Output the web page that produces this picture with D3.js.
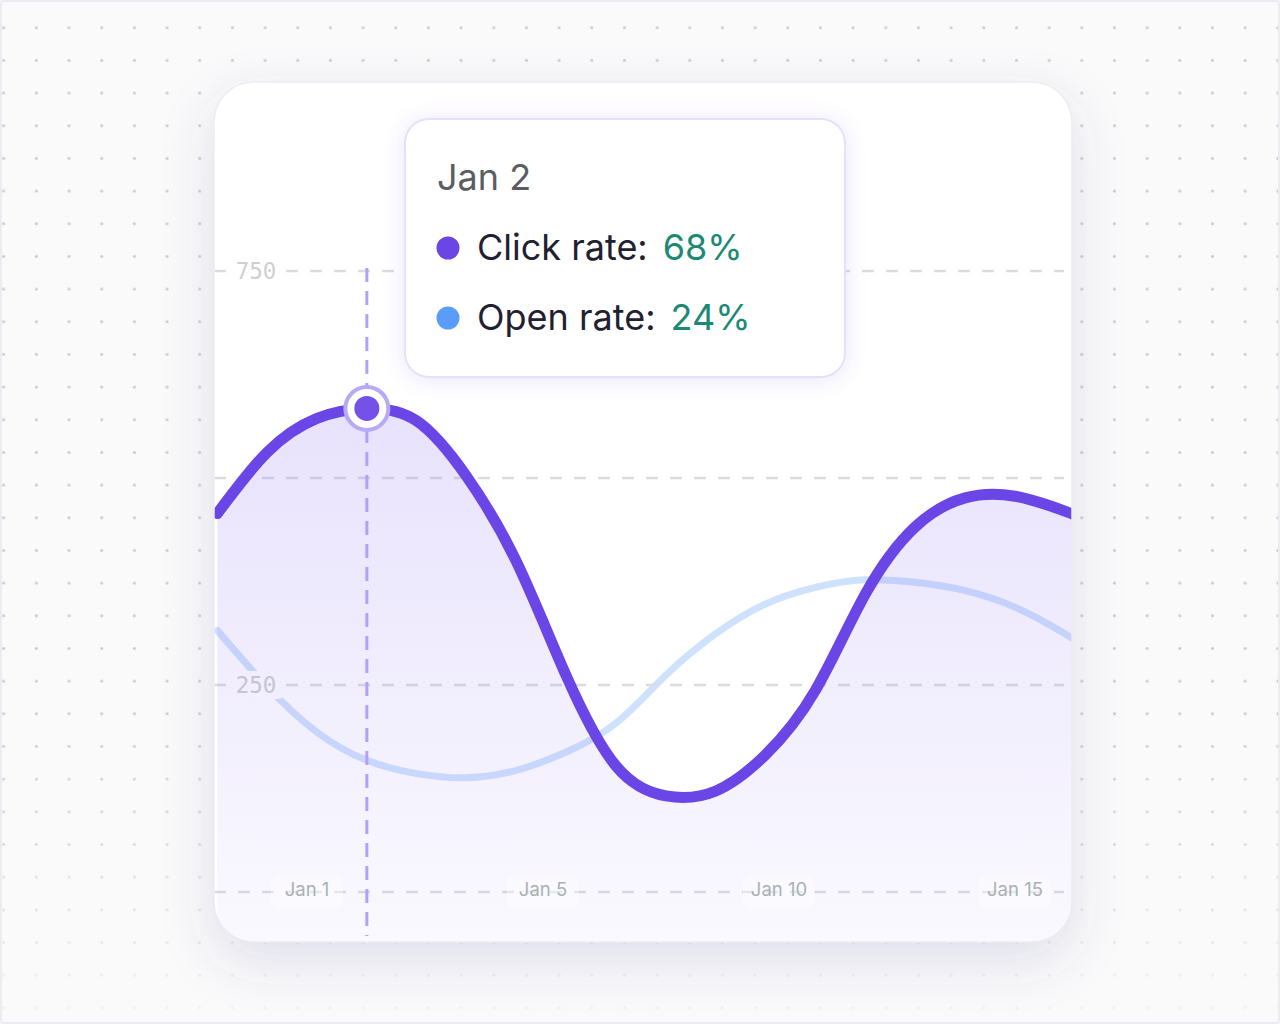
<!DOCTYPE html>
<html>
<head>
<meta charset="utf-8">
<script src="https://cdn.jsdelivr.net/npm/d3@7"></script>
<style>
  html, body { margin: 0; padding: 0; background: #fafafa; }
  svg { display: block; }
</style>
</head>
<body>
<svg id="chart" width="1280" height="1024"></svg>
<script>
// ---- data ----
const days = [-1, 0, 1, 2, 3, 4, 5, 6, 7, 8, 9, 10, 11, 12, 13, 14, 15, 16, 17]; // day of January
const clickRate = [457, 531, 572, 584, 569, 502, 399, 261, 152, 116, 122, 166, 244, 360, 441, 476, 478, 460, 437];
const openRate  = [316, 248, 193, 159, 143, 138, 147, 169, 204, 262, 312, 348, 368, 377, 374, 364, 344, 312, 274];
const xTickLabels = ["Jan 1", "Jan 5", "Jan 10", "Jan 15"];
const yTicks = [0, 250, 500, 750];
const yTickLabels = ["", "250", "", "750"];
const hoverDay = 2;
const tooltipTitle = "Jan 2";
const tooltipNames = ["Click rate:", "Open rate:"];
const tooltipValues = ["68%", "24%"];

// ---- layout ----
const W = 1280, H = 1024;
const card = { x: 214, y: 82, w: 858, h: 860, r: 40 };
const svg = d3.select("#chart");
const defs = svg.append("defs");

const x = d3.scaleLinear().domain([1, 15]).range([317, 1015]);
const xLab = d3.scalePoint().domain(xTickLabels).range([307, 1015]);
const y = d3.scaleLinear().domain([0, 750]).range([892, 271]);

// background dots
const pat = defs.append("pattern").attr("id", "dots")
  .attr("patternUnits", "userSpaceOnUse")
  .attr("x", 3.7 - 16.33).attr("y", 27.7 - 16.33)
  .attr("width", 32.67).attr("height", 32.67);
pat.append("circle").attr("cx", 16.33).attr("cy", 16.33).attr("r", 1.5).attr("fill", "#cbcbce");

const fade = defs.append("linearGradient").attr("id", "fadeGrad")
  .attr("gradientUnits", "userSpaceOnUse").attr("x1", 0).attr("y1", 0).attr("x2", 0).attr("y2", H);
fade.append("stop").attr("offset", 0.7).attr("stop-color", "#fff").attr("stop-opacity", 1);
fade.append("stop").attr("offset", 1).attr("stop-color", "#fff").attr("stop-opacity", 0.15);
defs.append("mask").attr("id", "fadeMask")
  .append("rect").attr("width", W).attr("height", H).attr("fill", "url(#fadeGrad)");

svg.append("rect").attr("width", W).attr("height", H).attr("fill", "#fafafa");
svg.append("rect").attr("width", W).attr("height", H).attr("fill", "url(#dots)").attr("mask", "url(#fadeMask)");
svg.append("rect").attr("x", 1).attr("y", 1).attr("width", W - 2).attr("height", H - 2)
  .attr("rx", 3).attr("fill", "none").attr("stroke", "#ebebf2").attr("stroke-width", 2);

// filters
const cardShadow = defs.append("filter").attr("id", "cardShadow")
  .attr("x", "-20%").attr("y", "-20%").attr("width", "140%").attr("height", "140%");
cardShadow.append("feDropShadow").attr("dx", 0).attr("dy", 18).attr("stdDeviation", 26)
  .attr("flood-color", "rgb(80,70,150)").attr("flood-opacity", 0.16);

const tipShadow = defs.append("filter").attr("id", "tipShadow")
  .attr("x", "-20%").attr("y", "-30%").attr("width", "140%").attr("height", "160%");
tipShadow.append("feDropShadow").attr("dx", 0).attr("dy", 2).attr("stdDeviation", 10)
  .attr("flood-color", "rgb(124,92,250)").attr("flood-opacity", 0.16);

// card
svg.append("rect").attr("x", card.x).attr("y", card.y).attr("width", card.w).attr("height", card.h)
  .attr("rx", card.r).attr("fill", "#fff").attr("filter", "url(#cardShadow)");

defs.append("clipPath").attr("id", "cardClip")
  .append("rect").attr("x", card.x).attr("y", card.y).attr("width", card.w).attr("height", card.h).attr("rx", card.r);

const areaGrad = defs.append("linearGradient").attr("id", "areaGrad")
  .attr("gradientUnits", "userSpaceOnUse").attr("x1", 0).attr("y1", 400).attr("x2", 0).attr("y2", card.y + card.h);
areaGrad.append("stop").attr("offset", 0).attr("stop-color", "rgb(118,84,240)").attr("stop-opacity", 0.17);
areaGrad.append("stop").attr("offset", 0.6).attr("stop-color", "rgb(118,84,240)").attr("stop-opacity", 0.09);
areaGrad.append("stop").attr("offset", 1).attr("stop-color", "rgb(118,84,240)").attr("stop-opacity", 0.035);

const g = svg.append("g").attr("clip-path", "url(#cardClip)");

const clickData = days.map((d, i) => ({ d, v: clickRate[i] }));
const openData = days.map((d, i) => ({ d, v: openRate[i] }));
const curve = d3.curveNatural;

// open rate line
g.append("path").datum(openData)
  .attr("d", d3.line().x(p => x(p.d)).y(p => y(p.v)).curve(curve))
  .attr("fill", "none").attr("stroke", "#cfe2fd").attr("stroke-width", 7).attr("stroke-linecap", "round");

// gridlines
g.selectAll(".grid").data(yTicks).join("line")
  .attr("x1", card.x).attr("x2", 1064)
  .attr("y1", d => y(d)).attr("y2", d => y(d))
  .attr("stroke", "#dcdce0").attr("stroke-width", 2.5).attr("stroke-dasharray", "12 12");

// y labels
yTicks.forEach((t, i) => {
  const lab = yTickLabels[i];
  if (!lab) return;
  g.append("rect").attr("x", 226).attr("y", y(t) - 14).attr("width", 58).attr("height", 28)
    .attr("rx", 6).attr("fill", "#fff");
  g.append("text").attr("x", 256).attr("y", y(t) + 8).attr("text-anchor", "middle")
    .attr("font-family", "DejaVu Sans Mono").attr("font-size", 22.5).attr("fill", "#cfcfcf").text(lab);
});

// area
g.append("path").datum(clickData)
  .attr("d", d3.area().x(p => x(p.d)).y0(card.y + card.h + 10).y1(p => y(p.v)).curve(curve))
  .attr("fill", "url(#areaGrad)");

// x labels
xTickLabels.forEach(l => {
  g.append("rect").attr("x", xLab(l) - 36).attr("y", y(0) - 17).attr("width", 72).attr("height", 34)
    .attr("rx", 8).attr("fill", "#fff").attr("fill-opacity", 0.4);
  g.append("text").attr("x", xLab(l)).attr("y", y(0) + 4).attr("text-anchor", "middle")
    .attr("font-family", "Inter").attr("font-size", 18.5).attr("fill", "#a8b2b3").text(l);
});

// click rate line
g.append("path").datum(clickData)
  .attr("d", d3.line().x(p => x(p.d)).y(p => y(p.v)).curve(curve))
  .attr("fill", "none").attr("stroke", "#6a46e6").attr("stroke-width", 11).attr("stroke-linecap", "round");

// crosshair
const hx = x(hoverDay);
const hy = y(clickRate[days.indexOf(hoverDay)]);
g.append("line").attr("x1", hx).attr("x2", hx).attr("y1", 268).attr("y2", 936)
  .attr("stroke", "#b3a0fa").attr("stroke-width", 3).attr("stroke-dasharray", "14 9");

// marker
g.append("circle").attr("cx", hx).attr("cy", hy).attr("r", 21.5)
  .attr("fill", "#fff").attr("stroke", "#b9a8f8").attr("stroke-width", 4);
g.append("circle").attr("cx", hx).attr("cy", hy).attr("r", 12.5).attr("fill", "#7452e8");

// card border
svg.append("rect").attr("x", card.x).attr("y", card.y).attr("width", card.w).attr("height", card.h)
  .attr("rx", card.r).attr("fill", "none").attr("stroke", "#ecebf4").attr("stroke-width", 1.5);

// tooltip
const tip = svg.append("g");
tip.append("rect").attr("x", 405).attr("y", 119).attr("width", 440).attr("height", 258).attr("rx", 24)
  .attr("fill", "#fff").attr("stroke", "#e6e0fb").attr("stroke-width", 2).attr("filter", "url(#tipShadow)");
tip.append("text").attr("x", 437).attr("y", 190)
  .attr("font-family", "Inter").attr("font-size", 36).attr("fill", "#5a5d62").text(tooltipTitle);
const dotColors = ["#6a46e6", "#5b9cf8"];
tooltipNames.forEach((n, i) => {
  const by = 260 + i * 70;
  tip.append("circle").attr("cx", 448).attr("cy", by - 12).attr("r", 11.5).attr("fill", dotColors[i]);
  const t = tip.append("text").attr("x", 477).attr("y", by)
    .attr("font-family", "Inter").attr("font-size", 36).attr("fill", "#1f2130");
  t.append("tspan").text(n);
  t.append("tspan").attr("dx", 15).attr("fill", "#1b8a75").text(tooltipValues[i]);
});
</script>
</body>
</html>
